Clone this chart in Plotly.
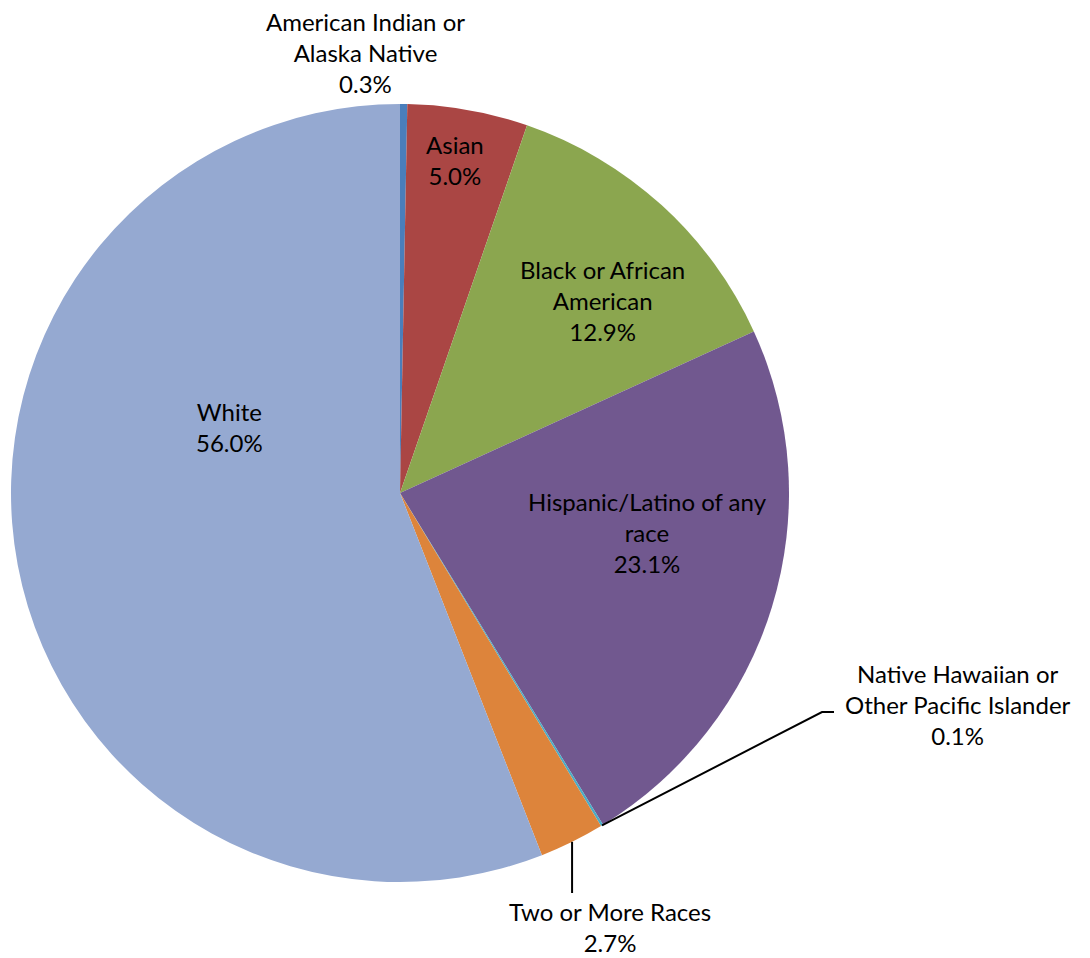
import math
import plotly.graph_objects as go

# ---- data ----
categories = [
    "American Indian or Alaska Native",
    "Asian",
    "Black or African American",
    "Hispanic/Latino of any race",
    "Native Hawaiian or Other Pacific Islander",
    "Two or More Races",
    "White",
]
values = [0.3, 5.0, 12.9, 23.1, 0.1, 2.7, 56.0]
label_lines = [
    ["American Indian or", "Alaska Native"],
    ["Asian"],
    ["Black or African", "American"],
    ["Hispanic/Latino of any", "race"],
    ["Native Hawaiian or", "Other Pacific Islander"],
    ["Two or More Races"],
    ["White"],
]
colors = ["#4A7EBB", "#AA4644", "#8BA64F", "#71588F", "#4BACC6", "#DD843B", "#95A9D1"]

# ---- layout (pixels) ----
W, H = 1090, 958
OFF = 8  # page body margin
CX, CY, R = 400, 493, 389
FONT = "Lato"
FS = 24
# label centre positions (px) per category
label_pos = [(365, 53), (455, 160), (603, 300), (647, 532), (958, 704), (610, 927), (229, 427)]
# categories with leader lines: index -> elbow point(s) in px
leaders = {4: [(822, 712), (834, 712)], 5: [(None, 893)]}


def px(x):
    return (x - OFF) / W


def py(y):
    return 1 - (y - OFF) / H


total = sum(values)
fig = go.Figure(
    go.Pie(
        labels=categories,
        values=values,
        sort=False,
        direction="clockwise",
        rotation=0,
        textinfo="none",
        hoverinfo="label+percent",
        marker=dict(colors=colors, line=dict(width=0)),
        domain=dict(x=[px(CX - R), px(CX + R)], y=[py(CY + R), py(CY - R)]),
        showlegend=False,
    )
)

annotations = []
shapes = []
cum = 0.0
for i, (cat, v) in enumerate(zip(categories, values)):
    mid = (cum + v / 2) / total * 2 * math.pi
    cum += v
    pct = f"{v:.1f}%"
    text = "<br>".join(label_lines[i] + [pct])
    lx, ly = label_pos[i]
    annotations.append(
        dict(
            x=px(lx), y=py(ly), xref="paper", yref="paper",
            text=text, showarrow=False, align="center",
            xanchor="center", yanchor="middle",
            font=dict(family=FONT, size=FS, color="black"),
        )
    )
    if i in leaders:
        ex = CX + R * math.sin(mid)
        ey = CY - R * math.cos(mid)
        pts = [(ex, ey)]
        for (bx, by) in leaders[i]:
            pts.append((ex if bx is None else bx, by))
        path = "M " + " L ".join(f"{px(a)},{py(b)}" for a, b in pts)
        shapes.append(
            dict(type="path", path=path, xref="paper", yref="paper",
                 line=dict(color="black", width=2))
        )

fig.update_layout(
    width=W, height=H,
    margin=dict(l=0, r=0, t=0, b=0),
    paper_bgcolor="white",
    plot_bgcolor="white",
    annotations=annotations,
    shapes=shapes,
    font=dict(family=FONT, size=FS, color="black"),
)

fig.write_html("out.html")
